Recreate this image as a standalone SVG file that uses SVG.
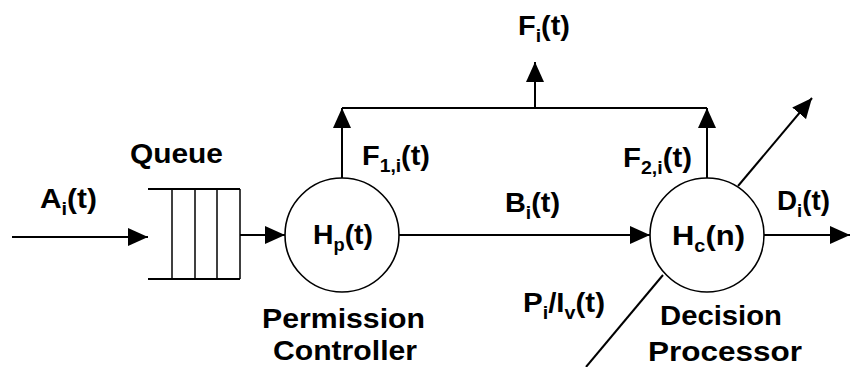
<svg xmlns="http://www.w3.org/2000/svg" width="850" height="367" viewBox="0 0 850 367">
<style>
text{font-family:"Liberation Sans",Arial,sans-serif;font-weight:bold;fill:#000;font-size:28px}
.lbl{font-size:27px}
.sub{font-size:18px}
.ln{stroke:#000;stroke-width:2;fill:none}
.thin{stroke:#000;stroke-width:1.5;fill:none}
.node{fill:#fff;stroke:#000;stroke-width:1.6}
</style>
<defs>
<marker id="ah" markerUnits="userSpaceOnUse" markerWidth="20" markerHeight="18" refX="20" refY="9" orient="auto">
<path d="M0,0 L20,9 L0,18 z" fill="#000"/>
</marker>
</defs>
<g id="connectors">
<line class="ln" x1="12" y1="237" x2="148" y2="237" marker-end="url(#ah)"/>
<line class="ln" x1="240" y1="235" x2="285" y2="235" marker-end="url(#ah)"/>
<line class="ln" x1="399" y1="235" x2="650" y2="235" marker-end="url(#ah)"/>
<line class="ln" x1="764" y1="235" x2="850" y2="235" marker-end="url(#ah)"/>
<line class="ln" x1="342" y1="178" x2="342" y2="108" marker-end="url(#ah)"/>
<line class="ln" x1="707" y1="178" x2="707" y2="108" marker-end="url(#ah)"/>
<line class="ln" x1="342" y1="108" x2="707" y2="108"/>
<line class="ln" x1="535" y1="108" x2="535" y2="62" marker-end="url(#ah)"/>
<line class="ln" x1="738" y1="186" x2="812" y2="98" marker-end="url(#ah)"/>
<line class="ln" x1="663" y1="275" x2="586" y2="367"/>
</g>
<g id="queue">
<line class="ln" x1="148" y1="189" x2="240" y2="189"/>
<line class="ln" x1="148" y1="279" x2="240" y2="279"/>
<line class="thin" x1="172" y1="189" x2="172" y2="279"/>
<line class="thin" x1="195" y1="189" x2="195" y2="279"/>
<line class="thin" x1="217" y1="189" x2="217" y2="279"/>
<line class="thin" x1="240" y1="189" x2="240" y2="279"/>
<text x="130" y="163" font-size="25" textLength="93" lengthAdjust="spacingAndGlyphs">Queue</text>
</g>
<g id="permission-controller">
<circle class="node" cx="342" cy="235" r="57"/>
<text x="313" y="244" textLength="60" lengthAdjust="spacingAndGlyphs">H<tspan class="sub" dy="7">p</tspan><tspan dy="-7">(t)</tspan></text>
<text x="262" y="328" textLength="163" lengthAdjust="spacingAndGlyphs">Permission</text>
<text x="273" y="360" textLength="144" lengthAdjust="spacingAndGlyphs">Controller</text>
</g>
<g id="decision-processor">
<circle class="node" cx="707" cy="235" r="57"/>
<text x="672" y="245" textLength="73" lengthAdjust="spacingAndGlyphs">H<tspan class="sub" dy="7">c</tspan><tspan dy="-7">(n)</tspan></text>
<text x="660" y="325" textLength="122" lengthAdjust="spacingAndGlyphs">Decision</text>
<text x="648" y="361" textLength="154" lengthAdjust="spacingAndGlyphs">Processor</text>
</g>
<g id="labels">
<text class="lbl" x="40" y="208" textLength="57" lengthAdjust="spacingAndGlyphs">A<tspan class="sub" dy="7">i</tspan><tspan dy="-7">(t)</tspan></text>
<text class="lbl" x="518" y="35" textLength="52" lengthAdjust="spacingAndGlyphs">F<tspan class="sub" dy="7">i</tspan><tspan dy="-7">(t)</tspan></text>
<text class="lbl" x="362" y="165" textLength="68" lengthAdjust="spacingAndGlyphs">F<tspan class="sub" dy="7">1,i</tspan><tspan dy="-7">(t)</tspan></text>
<text class="lbl" x="623" y="167" textLength="69" lengthAdjust="spacingAndGlyphs">F<tspan class="sub" dy="7">2,i</tspan><tspan dy="-7">(t)</tspan></text>
<text class="lbl" x="505" y="212" textLength="55" lengthAdjust="spacingAndGlyphs">B<tspan class="sub" dy="7">i</tspan><tspan dy="-7">(t)</tspan></text>
<text class="lbl" x="777" y="210" textLength="53" lengthAdjust="spacingAndGlyphs">D<tspan class="sub" dy="7">i</tspan><tspan dy="-7">(t)</tspan></text>
<text class="lbl" x="523" y="312" textLength="82" lengthAdjust="spacingAndGlyphs">P<tspan class="sub" dy="7">i</tspan><tspan dy="-7">/I</tspan><tspan class="sub" dy="7">v</tspan><tspan dy="-7">(t)</tspan></text>
</g>
</svg>
